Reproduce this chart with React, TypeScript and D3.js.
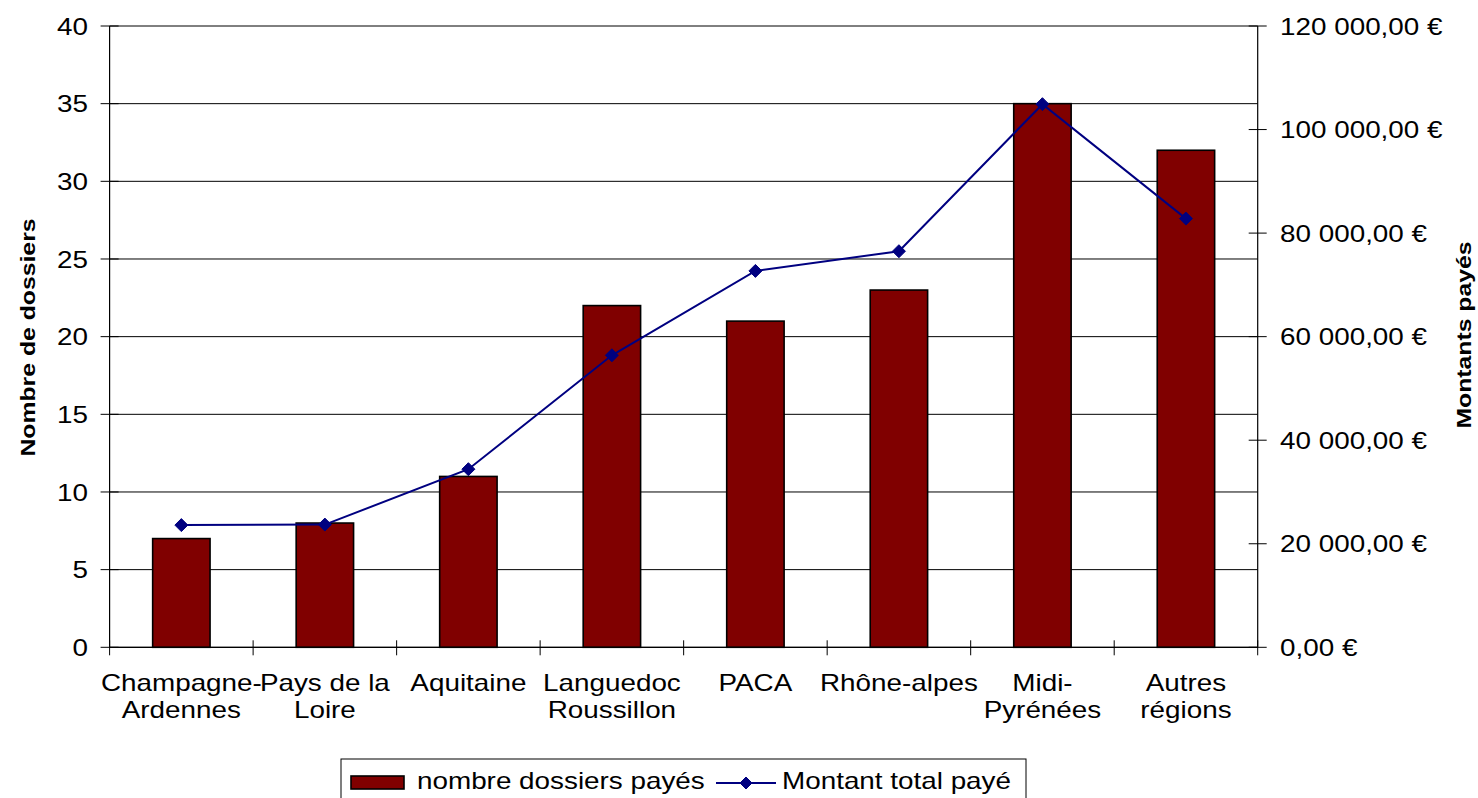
import React from "react";
import * as d3 from "d3";

const categories: string[][] = [
  ["Champagne-", "Ardennes"],
  ["Pays de la", "Loire"],
  ["Aquitaine"],
  ["Languedoc", "Roussillon"],
  ["PACA"],
  ["Rhône-alpes"],
  ["Midi-", "Pyrénées"],
  ["Autres", "régions"],
];
const dossiers: number[] = [7, 8, 11, 22, 21, 23, 35, 32];
const montants: number[] = [23600, 23700, 34400, 56400, 72700, 76500, 104900, 82800];
const leftTicks: number[] = [0, 5, 10, 15, 20, 25, 30, 35, 40];
const rightTicks: number[] = [0, 20000, 40000, 60000, 80000, 100000, 120000];
const seriesNames = ["nombre dossiers payés", "Montant total payé"];
const axisTitles = ["Nombre de dossiers", "Montants payés"];

const W = 1478;
const H = 798;
const left = 109.6;
const right = 1257.7;
const top = 26;
const bottom = 647.3;
const FONT = "'Liberation Sans', Arial, sans-serif";
const BAR = "#800000";
const LINE = "#000080";

const fr = d3.formatLocale({
  decimal: ",",
  thousands: "\u00a0",
  grouping: [3],
  currency: ["", "\u00a0€"],
});
const fmtEuro = fr.format("$,.2f");

function T({
  x,
  y,
  anchor = "start",
  size = 24,
  sx = 1.16,
  weight = "normal",
  rotate = 0,
  dy,
  children,
}: {
  x: number;
  y: number;
  anchor?: string;
  size?: number;
  sx?: number;
  weight?: string;
  rotate?: number;
  dy?: string;
  children: React.ReactNode;
}) {
  return (
    <g transform={`translate(${x},${y}) rotate(${rotate}) scale(${sx},1)`}>
      <text
        textAnchor={anchor as any}
        fontFamily={FONT}
        fontSize={size}
        fontWeight={weight}
        fill="#000"
        dy={dy}
      >
        {children}
      </text>
    </g>
  );
}

export default function App() {
  const keys = categories.map((c) => c.join(" "));
  const x = d3
    .scaleBand<string>()
    .domain(keys)
    .range([left, right])
    .paddingInner(0.6)
    .paddingOuter(0.3);
  const yL = d3.scaleLinear().domain([0, 40]).range([bottom, top]);
  const yR = d3.scaleLinear().domain([0, 120000]).range([bottom, top]);
  const step = x.step();
  const cx = (i: number) => (x(keys[i]) as number) + x.bandwidth() / 2;

  const line = d3
    .line<number>()
    .x((_, i) => cx(i))
    .y((d) => yR(d));

  const diamond = (px: number, py: number, r = 6.5) =>
    `M${px},${py - r}L${px + r},${py}L${px},${py + r}L${px - r},${py}Z`;

  const boundaries = d3.range(keys.length + 1).map((i) => left + i * step);

  return (
    <svg
      width={W}
      height={H}
      style={{ position: "absolute", left: 0, top: 0, background: "#fff" }}
    >
      <rect x={0} y={0} width={W} height={H} fill="#fff" />
      {leftTicks.map((t) => (
        <line key={"g" + t} x1={left} x2={right} y1={yL(t)} y2={yL(t)} stroke="#000" strokeWidth={1} />
      ))}
      {dossiers.map((d, i) => (
        <rect
          key={"b" + i}
          x={x(keys[i])}
          y={yL(d)}
          width={x.bandwidth()}
          height={bottom - yL(d)}
          fill={BAR}
          stroke="#000"
          strokeWidth={1.6}
        />
      ))}
      <line x1={left} x2={left} y1={top} y2={bottom} stroke="#000" strokeWidth={1.2} />
      <line x1={right} x2={right} y1={top} y2={bottom} stroke="#000" strokeWidth={1.2} />
      <line x1={left} x2={right} y1={bottom} y2={bottom} stroke="#000" strokeWidth={1.2} />
      {leftTicks.map((t) => (
        <line key={"lt" + t} x1={left - 9} x2={left + 9} y1={yL(t)} y2={yL(t)} stroke="#000" strokeWidth={1} />
      ))}
      {rightTicks.map((t) => (
        <line key={"rt" + t} x1={right - 9} x2={right + 9} y1={yR(t)} y2={yR(t)} stroke="#000" strokeWidth={1} />
      ))}
      {boundaries.map((b, i) => (
        <line key={"bt" + i} x1={b} x2={b} y1={bottom - 7} y2={bottom + 8} stroke="#000" strokeWidth={1} />
      ))}
      <path d={line(montants) || ""} fill="none" stroke={LINE} strokeWidth={2} />
      {montants.map((m, i) => (
        <path key={"m" + i} d={diamond(cx(i), yR(m))} fill={LINE} stroke={LINE} strokeWidth={1} />
      ))}
      {leftTicks.map((t) => (
        <T key={"ll" + t} x={88} y={yL(t)} anchor="end" dy="0.36em">
          {String(t)}
        </T>
      ))}
      {rightTicks.map((t) => (
        <T key={"rl" + t} x={1280} y={yR(t)} anchor="start" dy="0.36em">
          {fmtEuro(t)}
        </T>
      ))}
      {categories.map((c, i) =>
        c.map((ln, j) => (
          <T key={"c" + i + "_" + j} x={cx(i)} y={691 + j * 26.5} anchor="middle">
            {ln}
          </T>
        ))
      )}
      <T x={35} y={337.5} anchor="middle" size={21} sx={1.18} weight="bold" rotate={-90}>
        {axisTitles[0]}
      </T>
      <T x={1471} y={335} anchor="middle" size={21} sx={1.18} weight="bold" rotate={-90}>
        {axisTitles[1]}
      </T>
      <rect x={341} y={759} width={685} height={60} fill="#fff" stroke="#000" strokeWidth={1} />
      <rect x={351} y={776} width={53} height={13} fill={BAR} stroke="#000" strokeWidth={1.6} />
      <T x={417} y={789} anchor="start">
        {seriesNames[0]}
      </T>
      <line x1={716} x2={776} y1={783} y2={783} stroke={LINE} strokeWidth={2} />
      <path d={diamond(746, 783, 6)} fill={LINE} stroke={LINE} />
      <T x={782} y={789} anchor="start">
        {seriesNames[1]}
      </T>
    </svg>
  );
}
